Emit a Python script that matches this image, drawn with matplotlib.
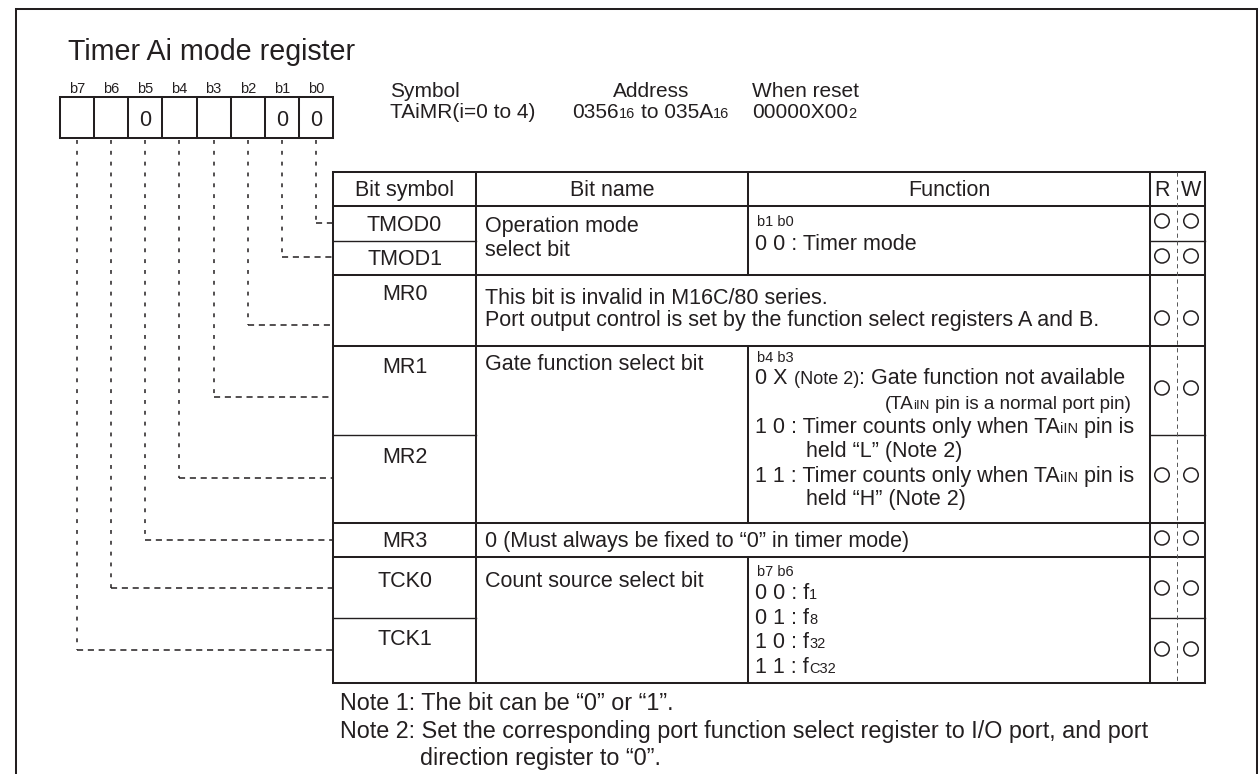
import matplotlib
matplotlib.use('Agg')
import matplotlib.pyplot as plt
from matplotlib.patches import Ellipse

plt.rcParams['font.family'] = ['Liberation Sans', 'DejaVu Sans']
plt.rcParams['lines.scale_dashes'] = False

INK = '#231f20'
BODY = 15.5
HEAD = 15.0
SMALL = 10.5
SUB = 10.5
NOTE = 16.8
TITLE = 20.6

# ---------------- data ----------------
title = 'Timer Ai mode register'
bit_labels = ['b7', 'b6', 'b5', 'b4', 'b3', 'b2', 'b1', 'b0']
bit_values = ['', '', '0', '', '', '', '0', '0']
bit_symbols = ['TMOD0', 'TMOD1', 'MR0', 'MR1', 'MR2', 'MR3', 'TCK0', 'TCK1']
rw_read = ['○'] * 8
rw_write = ['○'] * 8
headers = ['Bit symbol', 'Bit name', 'Function', 'R', 'W']
symbol_line = 'TAiMR(i=0 to 4)'
notes = ['Note 1: The bit can be “0” or “1”.',
         'Note 2: Set the corresponding port function select register to I/O port, and port',
         'direction register to “0”.']

# ---------------- layout ----------------
fig = plt.figure(figsize=(12.6, 7.74), dpi=100)
ax = fig.add_axes([0, 0, 1, 1])
ax.set_xlim(0, 1260)
ax.set_ylim(774, 0)
ax.axis('off')
renderer = fig.canvas.get_renderer()


def tw(s, size):
    if not s:
        return 0.0
    t1 = ax.text(0, 0, '|' + s + '|', fontsize=size)
    t2 = ax.text(0, 0, '||', fontsize=size)
    w = t1.get_window_extent(renderer).width - t2.get_window_extent(renderer).width
    t1.remove()
    t2.remove()
    return w


def rich(x, y, segs, ha='left'):
    total = sum(tw(s, sz) for s, sz in segs)
    if ha == 'center':
        x -= total / 2
    elif ha == 'right':
        x -= total
    for s, sz in segs:
        stripped = s.lstrip(' ')
        lead = len(s) - len(stripped)
        if lead:
            x += tw(' ' * lead, sz)
        if stripped:
            ax.text(x, y, stripped, fontsize=sz, va='baseline', ha='left', color=INK)
            x += tw(stripped, sz)


def hl(y, x0, x1, lw=1.45, **kw):
    ax.plot([x0, x1], [y, y], color=INK, lw=lw, solid_capstyle='projecting', **kw)


def vl(x, y0, y1, lw=1.45, **kw):
    ax.plot([x, x], [y0, y1], color=INK, lw=lw, solid_capstyle='projecting', **kw)


# outer frame
vl(16, 9, 800)
hl(9, 16, 1257)
vl(1257, 9, 800)

# title
ax.text(68, 60, title, fontsize=TITLE, va='baseline', ha='left', color=INK)

# bit boxes
bx0, bx1, by0, by1 = 60, 333, 97, 138
cw = (bx1 - bx0) / 8
hl(by0, bx0, bx1)
hl(by1, bx0, bx1)
for i in range(9):
    vl(bx0 + i * cw, by0, by1)
for i, (lab, val) in enumerate(zip(bit_labels, bit_values)):
    cx = bx0 + (i + 0.5) * cw
    ax.text(cx, 93, lab, fontsize=SMALL, ha='center', va='baseline', color=INK)
    if val:
        ax.text(cx, 126, val, fontsize=BODY, ha='center', va='baseline', color=INK)

# symbol / address / reset
rich(390, 97, [('Symbol', HEAD)])
rich(390, 118, [(symbol_line, HEAD)])
rich(651, 97, [('Address', HEAD)], ha='center')
rich(572, 118, [('0356', HEAD), ('16', SUB), (' to 035A', HEAD), ('16', SUB)])
rich(752, 97, [('When reset', HEAD)])
rich(752, 118, [('00000X00', HEAD), ('2', SUB)])

# table geometry
TL, TR, TT, TB = 333, 1205, 172, 683
C1, C2, C3, CRW = 476, 748, 1150, 1177
HB = 206
row_tops = [206, 241, 275, 346, 435, 523, 557, 618]
leader_y = [223, 257, 325, 397, 478, 540, 588, 650]
circle_y = [221, 256, 318, 388, 475, 538, 588, 649]
label_y = [231, 265, 300, 373, 463, 547, 587, 645]

# table lines
hl(TT, TL, TR)
hl(TB, TL, TR)
vl(TL, TT, TB)
vl(TR, TT, TB)
hl(HB, TL, TR)
for y in [275, 346, 523, 557]:
    hl(y, TL, TR)
for y in [241, 435, 618]:
    hl(y, TL, C1, lw=1.0)
    hl(y, C3, TR, lw=1.0)
vl(C1, TT, TB)
vl(C3, TT, TB)
for y0, y1 in [(TT, 275), (346, 523), (557, TB)]:
    vl(C2, y0, y1)
ax.plot([CRW, CRW], [TT, TB], color='#555555', lw=0.7, linestyle=(0, (3, 2.5)))

# dashed leaders from bits to rows
for i in range(8):
    cx = bx0 + (i + 0.5) * cw
    r = 7 - i
    yy = leader_y[r]
    ax.plot([cx, cx], [by1 + 2, yy], color=INK, lw=1.1, linestyle=(0, (2.8, 5.0)))
    ax.plot([cx, TL], [yy, yy], color=INK, lw=1.1, linestyle=(0, (4.4, 3.4)))

# headers
rich((TL + C1) / 2, 196, [(headers[0], BODY)], ha='center')
rich((C1 + C2) / 2, 196, [(headers[1], BODY)], ha='center')
rich((C2 + C3) / 2, 196, [(headers[2], BODY)], ha='center')
rich(1162, 196, [(headers[3], BODY)], ha='center')
rich(1191, 196, [(headers[4], BODY)], ha='center')

# bit symbols
for sym, y in zip(bit_symbols, label_y):
    rich((TL + C1) / 2, y, [(sym, BODY)], ha='center')

# R/W circles
for y, rr, ww in zip(circle_y, rw_read, rw_write):
    if rr:
        ax.add_patch(Ellipse((1162, y), 14.5, 14, fill=False, ec=INK, lw=1.1))
    if ww:
        ax.add_patch(Ellipse((1191, y), 14.5, 14, fill=False, ec=INK, lw=1.1))

NX = 485
FX = 755
# TMOD rows
rich(NX, 232, [('Operation mode', BODY)])
rich(NX, 256, [('select bit', BODY)])
rich(FX + 2, 226, [('b1 b0', SMALL)])
rich(FX, 250, [('0 0 : Timer mode', BODY)])

# MR0
rich(NX, 304, [('This bit is invalid in M16C/80 series.', BODY)])
rich(NX, 326, [('Port output control is set by the function select registers A and B.', BODY)])

# MR1 / MR2
rich(NX, 370, [('Gate function select bit', BODY)])
rich(FX + 2, 362, [('b4 b3', SMALL)])
rich(FX, 384, [('0 X ', BODY), ('(Note 2)', 13), (': Gate function not available', BODY)])
rich(1131, 409, [('(TA', 13.5), ('iIN', 9.5), (' pin is a normal port pin)', 13.5)], ha='right')
rich(FX, 433, [('1 0 : Timer counts only when TA', BODY), ('iIN', SUB), (' pin is', BODY)])
rich(806, 457, [('held “L” (Note 2)', BODY)])
rich(FX, 482, [('1 1 : Timer counts only when TA', BODY), ('iIN', SUB), (' pin is', BODY)])
rich(806, 505, [('held “H” (Note 2)', BODY)])

# MR3
rich(NX, 547, [('0 (Must always be fixed to “0” in timer mode)', BODY)])

# TCK
rich(NX, 587, [('Count source select bit', BODY)])
rich(FX + 2, 576, [('b7 b6', SMALL)])
rich(FX, 599, [('0 0 : f', BODY), ('1', SUB)])
rich(FX, 624, [('0 1 : f', BODY), ('8', SUB)])
rich(FX, 648, [('1 0 : f', BODY), ('32', SUB)])
rich(FX, 673, [('1 1 : f', BODY), ('C32', SUB)])

# notes
rich(340, 710, [(notes[0], NOTE)])
rich(340, 738, [(notes[1], NOTE)])
rich(420, 765, [(notes[2], NOTE)])

fig.savefig('out.png', dpi=100)
